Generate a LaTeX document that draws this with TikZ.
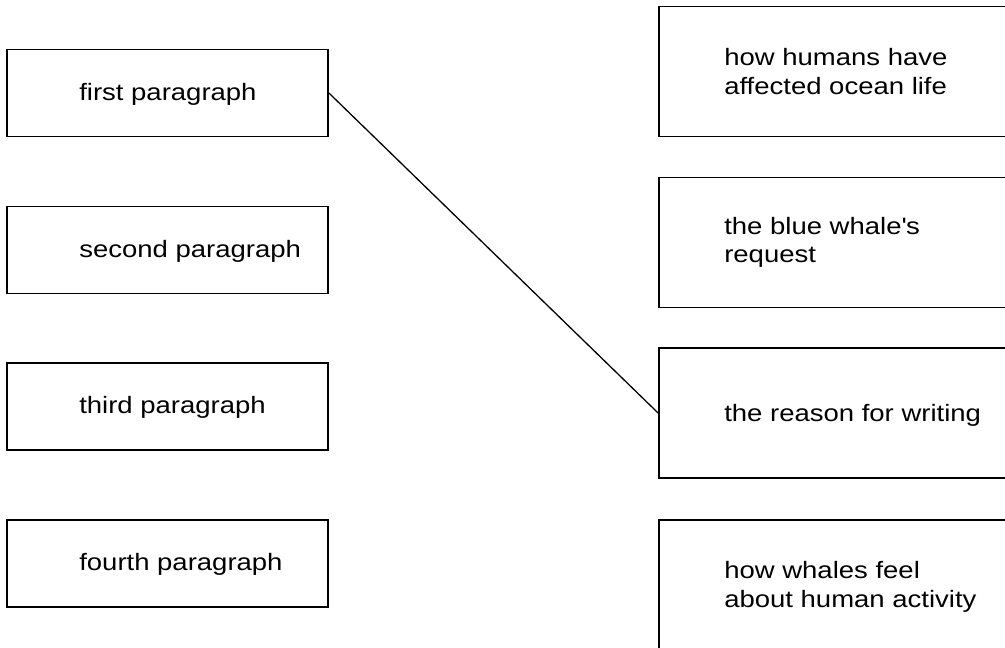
\documentclass[tikz,border=0pt]{standalone}
\usepackage{fontspec}
\setmainfont[FakeStretch=1.16, Ligatures=NoCommon]{Liberation Sans}
\usepackage{tikz}
\usetikzlibrary{positioning}

\begin{document}
\begin{tikzpicture}[x=1pt, y=-1pt,
  box/.style={draw, rectangle, line width=1.8pt, inner sep=0pt},
  para/.style={box, minimum width=321pt, minimum height=87pt},
  idea/.style={box, minimum width=384pt, minimum height=130pt},
  txt/.style={inner sep=0pt, align=left, font=\fontsize{23.7}{28.3}\selectfont},
  link/.style={line width=1.3pt}
]
\path[use as bounding box, clip] (0,0) rectangle (1005,648);

% left column
\node[para] (par1) at (167.5,93) {};
\node[para] (par2) at (167.5,250) {};
\node[para] (par3) at (167.5,406.5) {};
\node[para] (par4) at (167.5,563.5) {};
\node[txt, right=73pt of par1.west, yshift=-1pt] (lbl1) {first paragraph};
\node[txt, right=73pt of par2.west, yshift=-1pt] (lbl2) {second paragraph};
\node[txt, right=73pt of par3.west, yshift=-1pt] (lbl3) {third paragraph};
\node[txt, right=73pt of par4.west, yshift=-1pt] (lbl4) {fourth paragraph};

% right column
\node[idea] (humans) at (851,71.5) {};
\node[idea] (request) at (851,242.5) {};
\node[idea] (reason) at (851,413) {};
\node[idea] (feel) at (851,585) {};
\node[txt, right=66pt of humans.west] (lbl5) {how humans have\\affected ocean life};
\node[txt, right=66pt of request.west] (lbl6) {the blue whale\textquotesingle s\\request};
\node[txt, right=66pt of reason.west, yshift=-2pt] (lbl7) {the reason for writing};
\node[txt, right=66pt of feel.west, yshift=-2pt] (lbl8) {how whales feel\\about human activity};

\draw[link] (par1.east) -- (reason.west);
\end{tikzpicture}
\end{document}
